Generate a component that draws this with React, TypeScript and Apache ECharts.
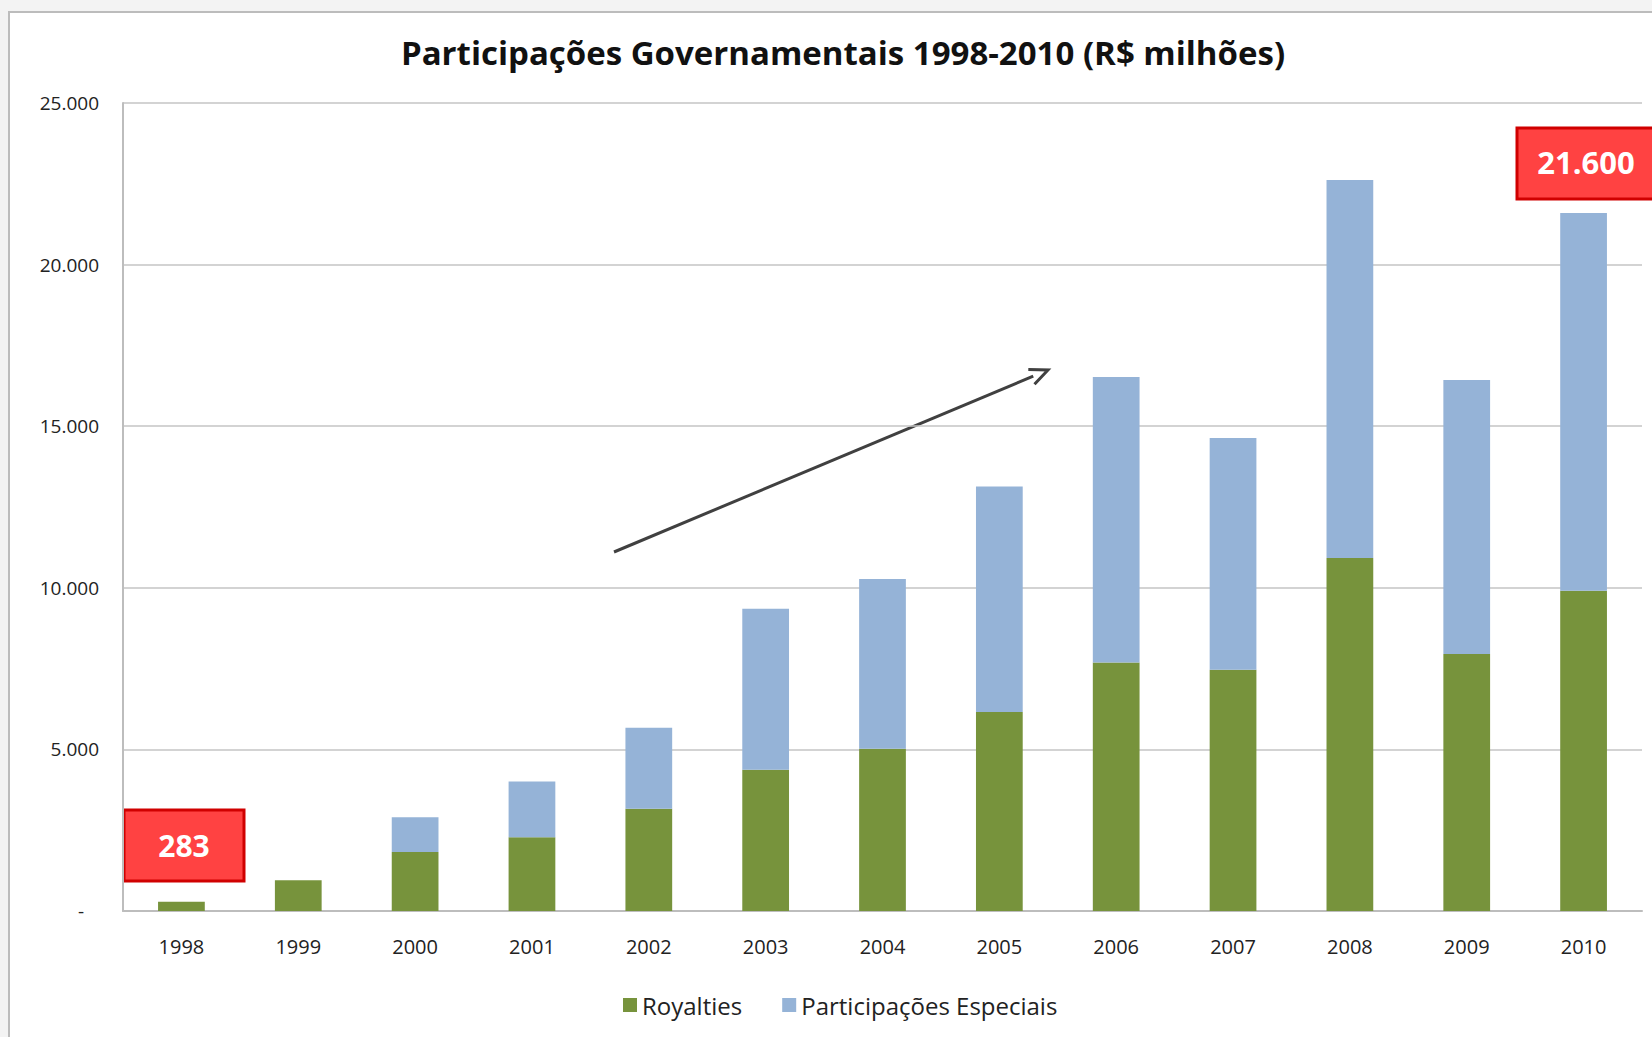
import React, { useEffect, useRef } from "react";
import * as echarts from "echarts";

const years = ["1998", "1999", "2000", "2001", "2002", "2003", "2004", "2005", "2006", "2007", "2008", "2009", "2010"];
const royalties = [283, 950, 1825, 2280, 3160, 4370, 5020, 6160, 7690, 7465, 10920, 7950, 9910];
const especiais = [0, 0, 1075, 1730, 2510, 4985, 5250, 6975, 8835, 7170, 11700, 8480, 11690];
const yTicks = [0, 5000, 10000, 15000, 20000, 25000];
const titleText = "Participações Governamentais 1998-2010 (R$ milhões)";
const callouts = ["283", "21.600"];

const fmt = (v: number) => {
  if (v === 0) return "-   ";
  const s = String(Math.round(v));
  return s.replace(/\B(?=(\d{3})+(?!\d))/g, ".");
};

export default function App() {
  const ref = useRef<HTMLDivElement>(null);
  useEffect(() => {
    if (!ref.current) return;
    const chart = echarts.init(ref.current, null, { renderer: "svg" });
    const font = "'Open Sans', 'Noto Sans', sans-serif";
    // arrow geometry
    const ax0 = 614, ay0 = 552, ax1 = 1048, ay1 = 370;
    const dx = ax1 - ax0, dy = ay1 - ay0;
    const len = Math.sqrt(dx * dx + dy * dy);
    const ux = dx / len, uy = dy / len;
    const hl = 18, hw = 8;
    const bx = ax1 - hl * ux, by = ay1 - hl * uy;
    const nx = -uy, ny = ux;
    chart.setOption({
      animation: false,
      backgroundColor: "#f3f3f3",
      title: {
        text: titleText,
        left: 838,
        textAlign: "center",
        top: 31,
        textStyle: { fontFamily: font, fontWeight: "bold", fontSize: 33, color: "#111" },
      },
      grid: { left: 123, right: 10, top: 103, bottom: 126, containLabel: false },
      legend: {
        bottom: 15,
        left: 618,
        itemWidth: 14,
        itemHeight: 14,
        itemGap: 40,
        icon: "rect",
        textStyle: { fontFamily: font, fontSize: 24, color: "#222" },
        data: ["Royalties", "Participações Especiais"],
      },
      xAxis: {
        type: "category",
        data: years,
        axisLine: { lineStyle: { color: "#bdbdbd", width: 2 } },
        axisTick: { show: false },
        axisLabel: { fontFamily: font, fontSize: 20, color: "#222", margin: 25 },
      },
      yAxis: {
        type: "value",
        min: yTicks[0],
        max: yTicks[yTicks.length - 1],
        interval: yTicks[1] - yTicks[0],
        axisLine: { show: true, lineStyle: { color: "#bdbdbd", width: 2 } },
        axisTick: { show: false },
        splitLine: { lineStyle: { color: "#c4c4c4", width: 1.5 } },
        axisLabel: { fontFamily: font, fontSize: 19, color: "#222", margin: 24, formatter: fmt },
      },
      series: [
        {
          name: "Royalties",
          type: "bar",
          stack: "total",
          data: royalties,
          barCategoryGap: "60%",
          itemStyle: { color: "#77933C" },
        },
        {
          name: "Participações Especiais",
          type: "bar",
          stack: "total",
          data: especiais,
          itemStyle: { color: "#95B3D7" },
        },
      ],
      graphic: [
        {
          type: "rect",
          z: -10,
          shape: { x: 9, y: 12, width: 1700, height: 1100 },
          style: { fill: "#ffffff", stroke: "#bcbcbc", lineWidth: 2 },
        },
        {
          type: "line",
          shape: { x1: ax0, y1: ay0, x2: bx + 2 * ux, y2: by + 2 * uy },
          style: { stroke: "#404040", lineWidth: 3 },
        },
        {
          type: "polyline",
          shape: { points: [[bx + hw * nx, by + hw * ny], [ax1, ay1], [bx - hw * nx, by - hw * ny]] },
          style: { stroke: "#404040", lineWidth: 3, fill: "none" },
        },
        {
          type: "group",
          children: [
            {
              type: "rect",
              shape: { x: 124, y: 810, width: 120, height: 71 },
              style: { fill: "#FF4242", stroke: "#D00000", lineWidth: 3 },
            },
            {
              type: "text",
              x: 184,
              y: 845,
              style: {
                text: callouts[0],
                fill: "#ffffff",
                font: "bold 30px 'Open Sans', sans-serif",
                textAlign: "center",
                textVerticalAlign: "middle",
              },
            },
          ],
        },
        {
          type: "group",
          children: [
            {
              type: "rect",
              shape: { x: 1517, y: 128, width: 145, height: 71 },
              style: { fill: "#FF4242", stroke: "#D00000", lineWidth: 3 },
            },
            {
              type: "text",
              x: 1586,
              y: 162,
              style: {
                text: callouts[1],
                fill: "#ffffff",
                font: "bold 31px 'Open Sans', sans-serif",
                textAlign: "center",
                textVerticalAlign: "middle",
              },
            },
          ],
        },
      ],
    });
    return () => chart.dispose();
  }, []);
  return (
    <div
      ref={ref}
      style={{ position: "absolute", left: 0, top: 0, width: 1652, height: 1037 }}
    />
  );
}
